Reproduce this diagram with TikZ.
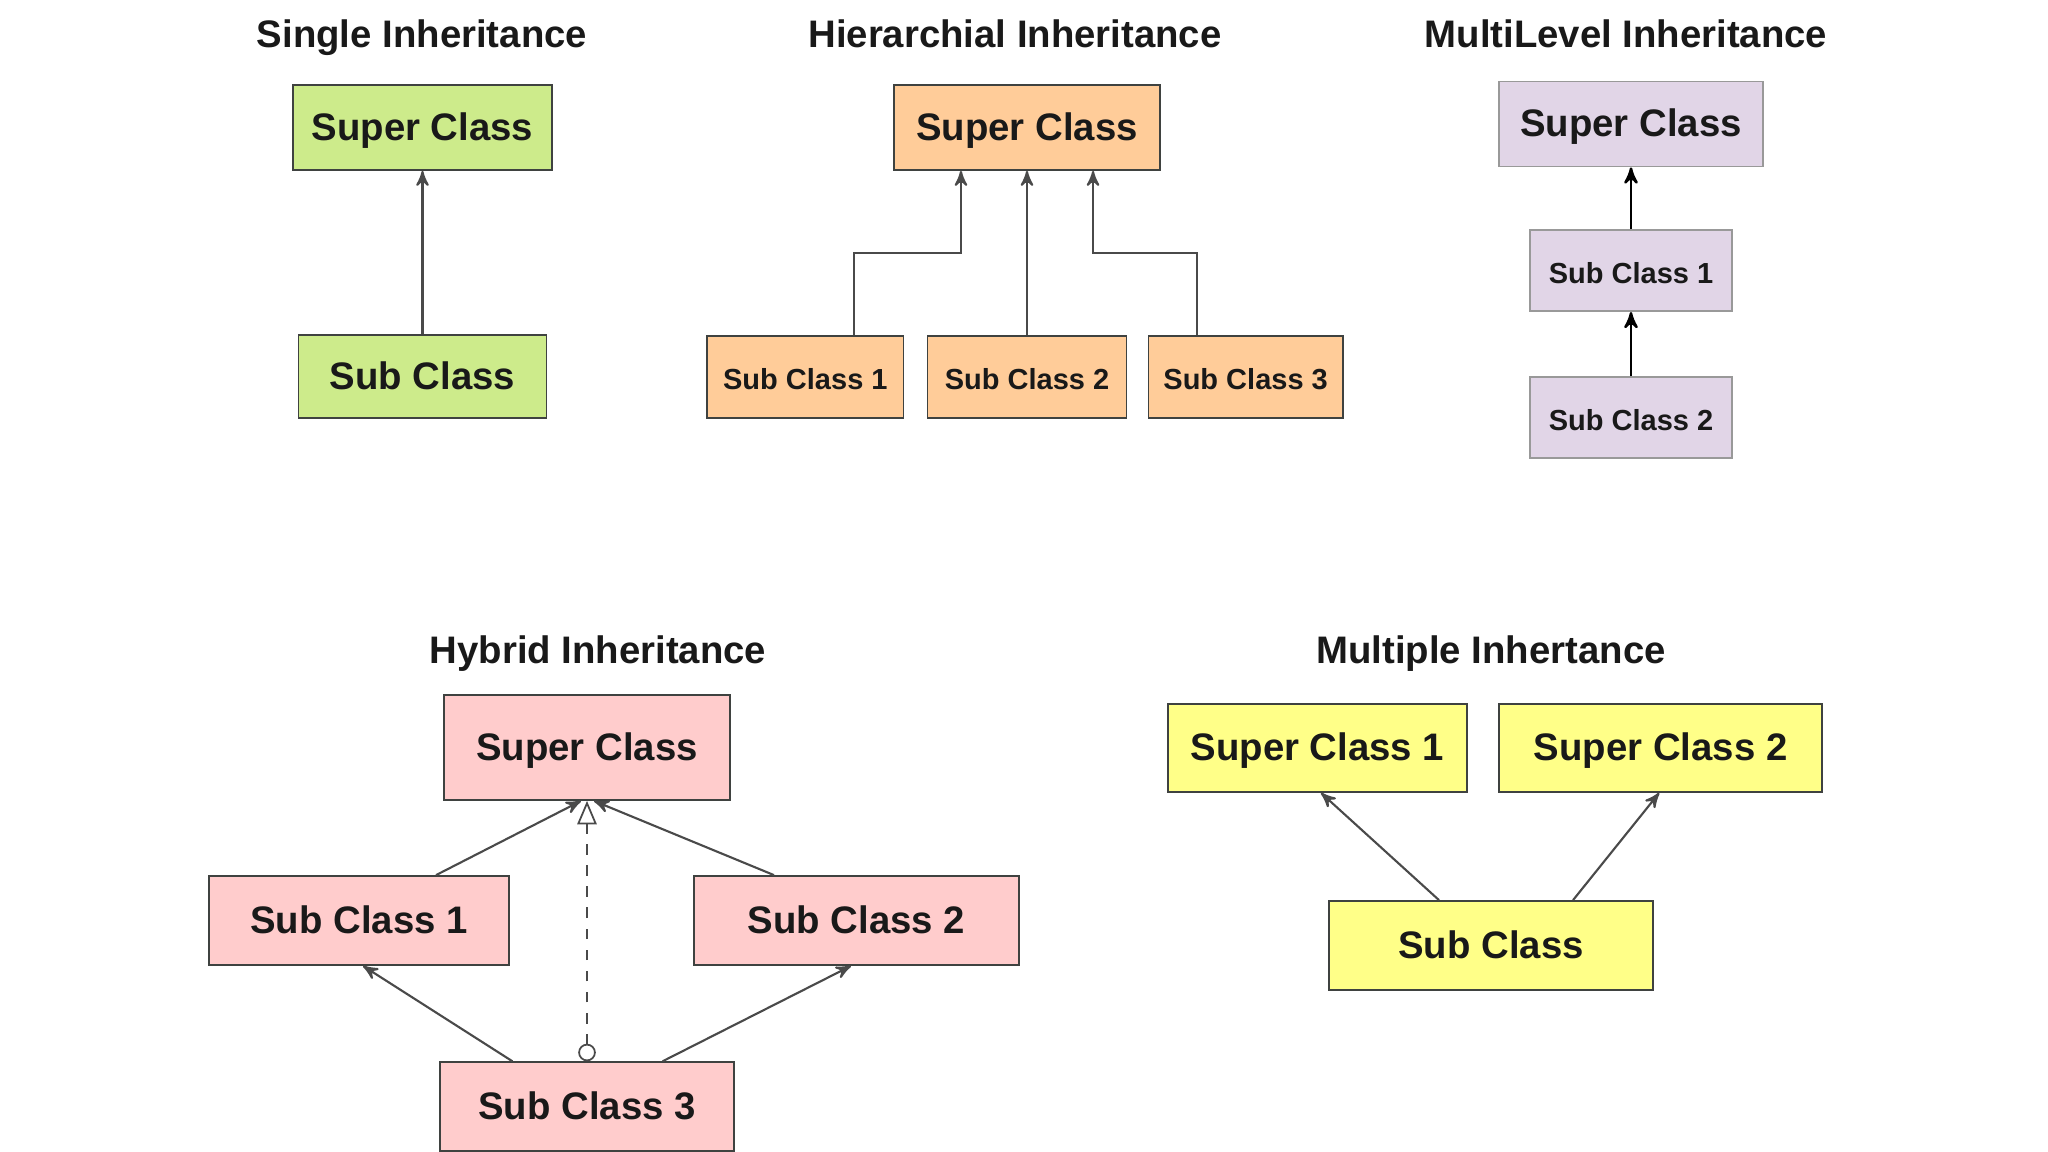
\documentclass[tikz,border=0pt]{standalone}
\usepackage{fontspec}
\setmainfont{Liberation Sans}
\usetikzlibrary{arrows}

\definecolor{greenfill}{HTML}{CDEB8B}
\definecolor{orangefill}{HTML}{FFCC99}
\definecolor{purplefill}{HTML}{E1D5E7}
\definecolor{pinkfill}{HTML}{FFCCCC}
\definecolor{yellowfill}{HTML}{FFFF88}
\definecolor{boxline}{HTML}{3F4240}
\definecolor{arrowline}{HTML}{4A4A4A}

\begin{document}
\begin{tikzpicture}[x=0.01cm,y=-0.01cm,>=stealth',auto,
        title node/.style={font=\fontsize{10.9}{13}\selectfont\bfseries,text=black!90,
            text height=0.72em,text depth=0pt},
        class node/.style={rectangle,draw=boxline,line width=0.5pt,inner sep=0pt,
            font=\fontsize{10.9}{13}\selectfont\bfseries,text=black!90,
            text height=0.72em,text depth=0pt},
        small node/.style={class node,font=\fontsize{8.25}{10}\selectfont\bfseries},
        link/.style={->,draw=arrowline,line width=0.6pt}]
        \useasboundingbox (0,0) rectangle (2048,1152);
        % titles
        \node[title node] (t1) at (422,35) {Single Inheritance};
        \node[title node] (t2) at (1015,35) {Hierarchial Inheritance};
        \node[title node] (t3) at (1626,35) {MultiLevel Inheritance};
        \node[title node] (t4) at (598,651) {Hybrid Inheritance};
        \node[title node] (t5) at (1491,651) {Multiple Inhertance};
        % single
        \node[class node, fill=greenfill, minimum width=2.59cm, minimum height=0.85cm] (s1) at (422.5,127.5) {Super Class};
        \node[class node, fill=greenfill, minimum width=2.48cm, minimum height=0.83cm, node distance=2.49cm] (s2) [below of=s1] {Sub Class};
        % hierarchial
        \node[class node, fill=orangefill, minimum width=2.66cm, minimum height=0.85cm] (h0) at (1027,127.5) {Super Class};
        \node[small node, fill=orangefill, minimum width=1.99cm, minimum height=0.82cm, node distance=2.495cm] (h2) [below of=h0] {Sub Class 2};
        \node[small node, fill=orangefill, minimum width=1.96cm, minimum height=0.82cm, node distance=2.215cm] (h1) [left of=h2] {Sub Class 1};
        \node[small node, fill=orangefill, minimum width=1.94cm, minimum height=0.82cm, node distance=2.185cm] (h3) [right of=h2] {Sub Class 3};
        % multilevel
        \node[class node, draw=black!40, fill=purplefill, minimum width=2.64cm, minimum height=0.85cm] (m0) at (1631,124) {Super Class};
        \node[small node, draw=black!40, fill=purplefill, minimum width=2.02cm, minimum height=0.81cm, node distance=1.465cm] (m1) [below of=m0] {Sub Class 1};
        \node[small node, draw=black!40, fill=purplefill, minimum width=2.02cm, minimum height=0.81cm, node distance=1.47cm] (m2) [below of=m1] {Sub Class 2};
        % hybrid
        \node[class node, fill=pinkfill, minimum width=2.86cm, minimum height=1.05cm] (y0) at (587,747.5) {Super Class};
        \node[class node, fill=pinkfill, minimum width=3cm, minimum height=0.89cm] (y1) at (359,920.5) {Sub Class 1};
        \node[class node, fill=pinkfill, minimum width=3.25cm, minimum height=0.89cm] (y2) at (856.5,920.5) {Sub Class 2};
        \node[class node, fill=pinkfill, minimum width=2.94cm, minimum height=0.89cm, node distance=3.59cm] (y3) [below of=y0] {Sub Class 3};
        % multiple
        \node[class node, fill=yellowfill, minimum width=2.99cm, minimum height=0.88cm] (u1) at (1317.5,748) {Super Class 1};
        \node[class node, fill=yellowfill, minimum width=3.23cm, minimum height=0.88cm, node distance=3.43cm] (u2) [right of=u1] {Super Class 2};
        \node[class node, fill=yellowfill, minimum width=3.24cm, minimum height=0.89cm] (u0) at (1491,945.5) {Sub Class};

        \path[every edge/.style={link}]
        (s2) edge (s1)
        (h2) edge (h0)
        ([xshift=0.77cm]y1.north) edge ([xshift=-0.06cm]y0.south)
        ([xshift=-0.825cm]y2.north) edge ([xshift=0.07cm]y0.south)
        ([xshift=-0.745cm]y3.north) edge ([xshift=0.04cm]y1.south)
        ([xshift=0.755cm]y3.north) edge ([xshift=-0.055cm]y2.south)
        ([xshift=-0.52cm]u0.north) edge ([xshift=0.035cm]u1.south)
        ([xshift=0.82cm]u0.north) edge ([xshift=-0.015cm]u2.south)
        ;
        \draw[link] ([xshift=0.49cm]h1.north) -- ++(0,-82.5) -| ([xshift=-0.66cm]h0.south);
        \draw[link] ([xshift=-0.49cm]h3.north) -- ++(0,-82.5) -| ([xshift=0.66cm]h0.south);
        \path[every edge/.style={link, draw=black, line width=0.7pt}]
        (m1) edge (m0)
        (m2) edge (m1)
        ;
        \draw[o-open triangle 45, draw=arrowline, line width=0.5pt, dashed] (y3) -- (y0);
\end{tikzpicture}
\end{document}
